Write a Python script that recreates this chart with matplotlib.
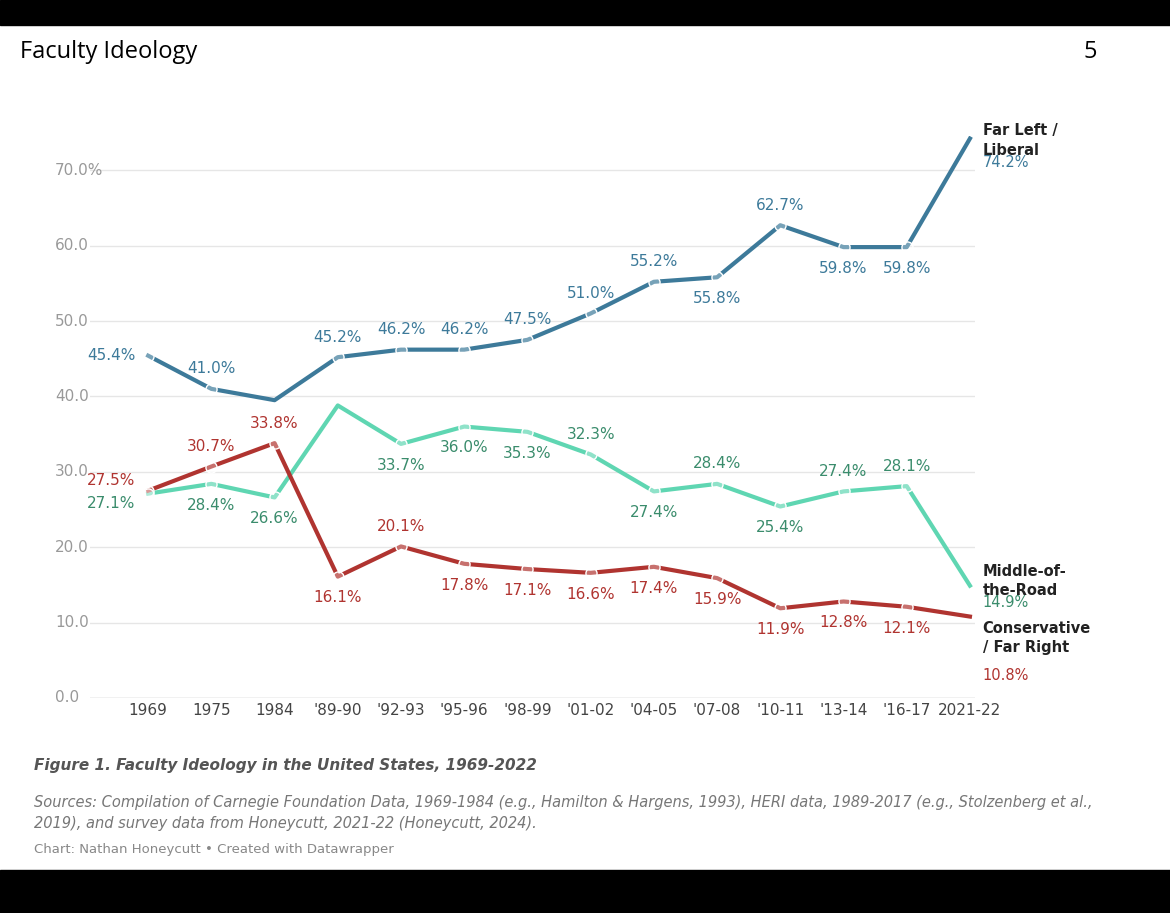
import matplotlib.pyplot as plt

years = ["1969", "1975", "1984", "'89-90", "'92-93", "'95-96", "'98-99", "'01-02",
         "'04-05", "'07-08", "'10-11", "'13-14", "'16-17", "2021-22"]
left = [45.4, 41.0, 39.5, 45.2, 46.2, 46.2, 47.5, 51.0, 55.2, 55.8, 62.7, 59.8, 59.8, 74.2]
middle = [27.1, 28.4, 26.6, 38.8, 33.7, 36.0, 35.3, 32.3, 27.4, 28.4, 25.4, 27.4, 28.1, 14.9]
right = [27.5, 30.7, 33.8, 16.1, 20.1, 17.8, 17.1, 16.6, 17.4, 15.9, 11.9, 12.8, 12.1, 10.8]

# label placement: 'a' above, 'b' below, 'l' left, '' none
left_pos = ["l", "a", "", "a", "a", "a", "a", "a", "a", "b", "a", "b", "b", ""]
mid_pos = ["l", "b", "b", "", "b", "b", "b", "a", "b", "a", "b", "a", "a", ""]
right_pos = ["l", "a", "a", "b", "a", "b", "b", "b", "b", "b", "b", "b", "b", ""]

fig = plt.figure(figsize=(11.7, 9.13), dpi=100)
fig.patches.append(plt.Rectangle((0, 1 - 25 / 913), 1, 25 / 913, transform=fig.transFigure, color="black"))
fig.patches.append(plt.Rectangle((0, 0), 1, 43 / 913, transform=fig.transFigure, color="black"))
fig.text(20 / 1170, 1 - 52 / 913, "Faculty Ideology", fontsize=17, va="center", family="Open Sans")
fig.text(1090 / 1170, 1 - 52 / 913, "5", fontsize=17, va="center", ha="center", family="Open Sans")

ax = fig.add_axes([90 / 1170, 1 - 698 / 913, 885 / 1170, 74.5 * 7.54 / 913])
x = list(range(len(years)))
ax.set_xlim(-0.92, 13.08)
ax.set_ylim(0, 74.5)
for s in ax.spines.values():
    s.set_visible(False)
ax.set_yticks([])
ax.tick_params(length=0)
for v in [0, 10, 20, 30, 40, 50, 60, 70]:
    ax.axhline(v, color="#bbbbbb" if v == 0 else "#e6e6e6", lw=1, zorder=0)
    lab = "70.0%" if v == 70 else f"{v:.1f}"
    fig.text(55 / 1170, 1 - (698 - v * 7.54) / 913, lab, color="#999999", fontsize=11,
             va="center", ha="left")
ax.set_xticks(x)
ax.set_xticklabels(years, fontsize=11, color="#444444")

series = [(left, left_pos, "#3d7a9a", "#3d7a9a"),
          (middle, mid_pos, "#5fd6b2", "#3a8c6c"),
          (right, right_pos, "#b03430", "#b03430")]
for vals, pos, lc, tc in series:
    ax.plot(x, vals, color=lc, lw=3, zorder=3)
    for i, (v, p) in enumerate(zip(vals, pos)):
        if not p:
            continue
        ax.plot(i, v, "o", ms=8, mfc=(1, 1, 1, 0.3), mec="white", mew=1, zorder=4)
        if p == "l":
            ax.annotate(f"{v:.1f}%", (i, v), xytext=(-9, 0), textcoords="offset points",
                        ha="right", va="center", color=tc, fontsize=11)
            continue
        ax.annotate(f"{v:.1f}%", (i, v), xytext=(0, 9 if p == "a" else -10),
                    textcoords="offset points", ha="center",
                    va="bottom" if p == "a" else "top", color=tc, fontsize=11)
# nudge 1969 left labels vertically apart
for t in ax.texts:
    if t.get_text() == "45.4%":
        t.xyann = (-9, 0)
    if t.get_text() == "27.5%":
        t.xyann = (-9, 7)
    if t.get_text() == "27.1%":
        t.xyann = (-9, -7)

side = dict(ha="left", fontsize=10.5, clip_on=False, linespacing=1.35)
ax.text(13.2, 76.2, "Far Left /\nLiberal", va="top", fontweight="bold", color="#222222", **side)
ax.text(13.2, 71.0, "74.2%", va="center", color="#3d7a9a", **side)
ax.text(13.2, 17.8, "Middle-of-\nthe-Road", va="top", fontweight="bold", color="#222222", **side)
ax.text(13.2, 12.6, "14.9%", va="center", color="#3a8c6c", **side)
ax.text(13.2, 10.2, "Conservative\n/ Far Right", va="top", fontweight="bold", color="#222222", **side)
ax.text(13.2, 3.0, "10.8%", va="center", color="#b03430", **side)

fig.text(34 / 1170, 1 - 765 / 913, "Figure 1. Faculty Ideology in the United States, 1969-2022",
         fontsize=11, fontweight="bold", style="italic", color="#555555", va="center")
fig.text(34 / 1170, 1 - 813 / 913,
         "Sources: Compilation of Carnegie Foundation Data, 1969-1984 (e.g., Hamilton & Hargens, 1993), HERI data, 1989-2017 (e.g., Stolzenberg et al.,\n"
         "2019), and survey data from Honeycutt, 2021-22 (Honeycutt, 2024).",
         fontsize=10.5, style="italic", color="#777777", va="center", linespacing=1.5)
fig.text(34 / 1170, 1 - 849 / 913, "Chart: Nathan Honeycutt \u2022 Created with Datawrapper",
         fontsize=9.5, color="#888888", va="center")

fig.savefig("out.png", dpi=100)
